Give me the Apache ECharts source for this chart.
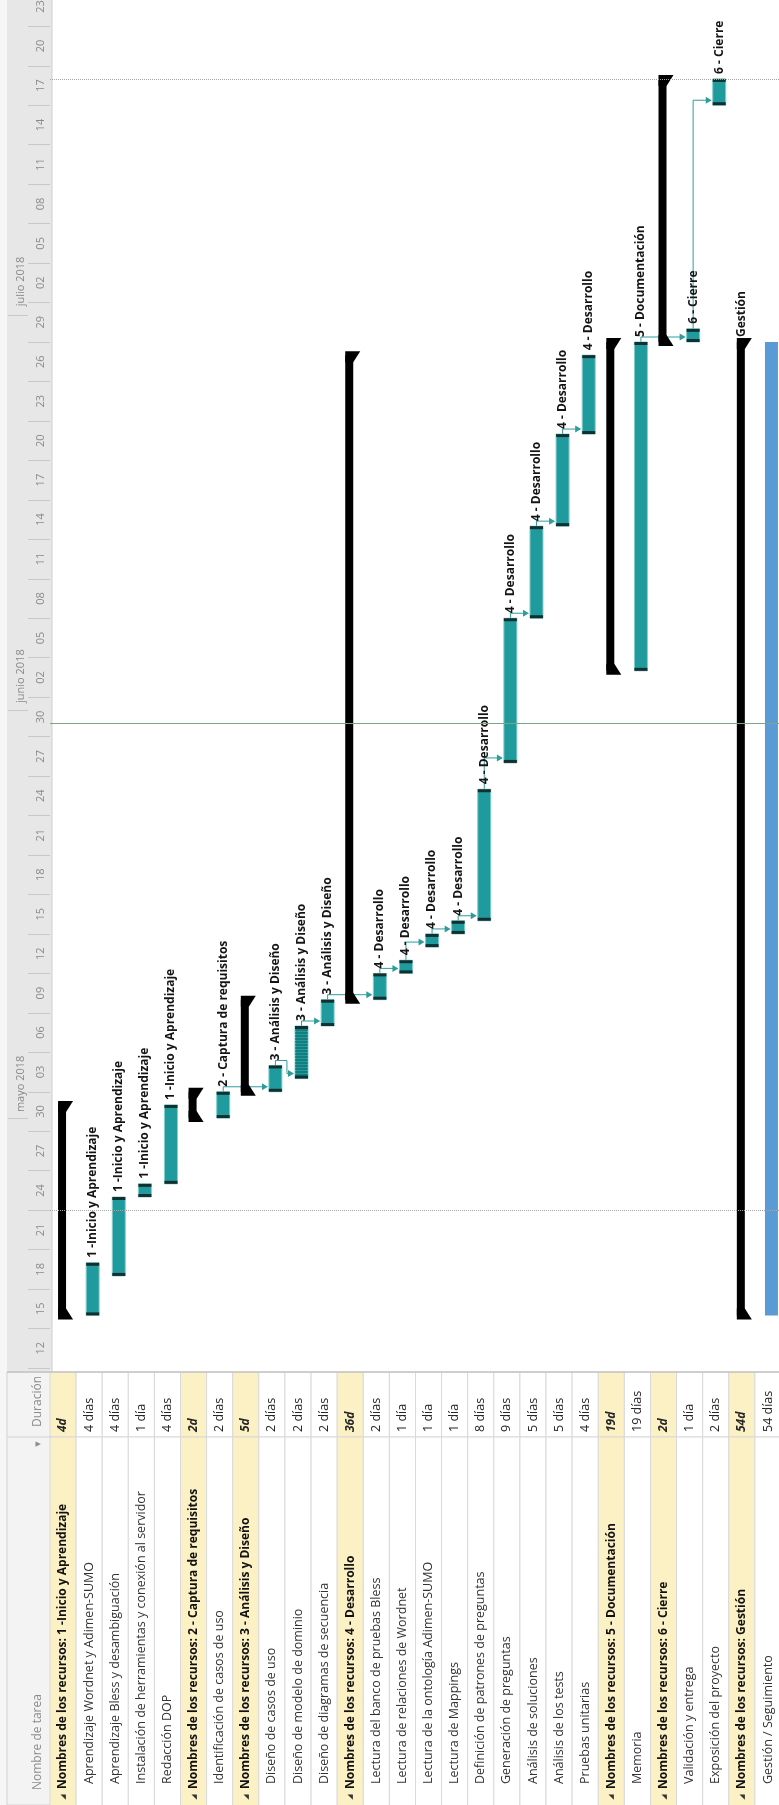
<!DOCTYPE html>
<html><head><meta charset="utf-8">
<script src="https://cdn.jsdelivr.net/npm/echarts@6/dist/echarts.min.js"></script>
<style>html,body{margin:0;padding:0;background:#fff}#c{width:779px;height:1805px}</style>
</head><body><div id="c"></div>
<script>
// ---------- data ----------
const taskNames = [
  'Nombres de los recursos: 1 -Inicio y Aprendizaje',
  'Aprendizaje Wordnet y Adimen-SUMO',
  'Aprendizaje Bless y desambiguación',
  'Instalación de herramientas y conexión al servidor',
  'Redacción DOP',
  'Nombres de los recursos: 2 - Captura de requisitos',
  'Identificación de casos de uso',
  'Nombres de los recursos: 3 - Análisis y Diseño',
  'Diseño de casos de uso',
  'Diseño de modelo de dominio',
  'Diseño de diagramas de secuencia',
  'Nombres de los recursos: 4 - Desarrollo',
  'Lectura del banco de pruebas Bless',
  'Lectura de relaciones de Wordnet',
  'Lectura de la ontología Adimen-SUMO',
  'Lectura de Mappings',
  'Definición de patrones de preguntas',
  'Generación de preguntas',
  'Análisis de soluciones',
  'Análisis de los tests',
  'Pruebas unitarias',
  'Nombres de los recursos: 5 - Documentación',
  'Memoria',
  'Nombres de los recursos: 6 - Cierre',
  'Validación y entrega',
  'Exposición del proyecto',
  'Nombres de los recursos: Gestión',
  'Gestión / Seguimiento'
];
const durations = ['4d','4 días','4 días','1 día','4 días','2d','2 días','5d','2 días','2 días','2 días','36d',
  '2 días','1 día','1 día','1 día','8 días','9 días','5 días','5 días','4 días','19d','19 días','2d','1 día','2 días','54d','54 días'];
// S = summary, T = task, H = hatched task, G = blue task
const rowKinds = ['S','T','T','T','T','S','T','S','T','H','T','S','T','T','T','T','T','T','T','T','T','S','T','S','T','T','S','G'];
const startDates = ['2018-04-16','2018-04-16','2018-04-19','2018-04-25','2018-04-26','2018-05-01','2018-05-01','2018-05-03',
  '2018-05-03','2018-05-04','2018-05-08','2018-05-10','2018-05-10','2018-05-12','2018-05-14','2018-05-15','2018-05-16',
  '2018-05-28','2018-06-08','2018-06-15','2018-06-22','2018-06-04','2018-06-04','2018-06-29','2018-06-29','2018-07-17',
  '2018-04-16','2018-04-16'];
const finishDates = ['2018-05-01','2018-04-19','2018-04-24','2018-04-25','2018-05-01','2018-05-02','2018-05-02','2018-05-09',
  '2018-05-04','2018-05-07','2018-05-09','2018-06-27','2018-05-11','2018-05-12','2018-05-14','2018-05-15','2018-05-25',
  '2018-06-07','2018-06-14','2018-06-21','2018-06-27','2018-06-28','2018-06-28','2018-07-18','2018-06-29','2018-07-18',
  '2018-06-28','2018-06-28'];
const resourceLabels = ['','1 -Inicio y Aprendizaje','1 -Inicio y Aprendizaje','1 -Inicio y Aprendizaje','1 -Inicio y Aprendizaje',
  '','2 - Captura de requisitos','','3 - Análisis y Diseño','3 - Análisis y Diseño','3 - Análisis y Diseño','',
  '4 - Desarrollo','4 - Desarrollo','4 - Desarrollo','4 - Desarrollo','4 - Desarrollo','4 - Desarrollo','4 - Desarrollo',
  '4 - Desarrollo','4 - Desarrollo','','5 - Documentación','','6 - Cierre','6 - Cierre','Gestión',''];
const linkFrom = [7, 9, 10, 11, 13, 14, 15, 16, 17, 18, 19, 20, 23, 25];
const linkTo   = [9, 10, 11, 13, 14, 15, 16, 17, 18, 19, 20, 21, 25, 26];
const tickLabels = ['12','15','18','21','24','27','30','03','06','09','12','15','18','21','24','27','30','02','05','08',
  '11','14','17','20','23','26','29','02','05','08','11','14','17','20','23'];
const monthLabels = ['mayo 2018','junio 2018','julio 2018'];
const monthStarts = ['2018-05-01','2018-06-01','2018-07-01'];
const statusDate = '2018-05-31';
const markerDates = ['2018-04-24','2018-07-19'];

// ---------- helpers ----------
const base = Date.UTC(2018, 3, 12);
const dayNum = s => { const p = s.split('-').map(Number); return (Date.UTC(p[0], p[1] - 1, p[2]) - base) / 86400000; };
const startDay = startDates.map(dayNum);
const endDay = finishDates.map(s => dayNum(s) + 1);
const tickVals = tickLabels.map((_, k) => 3 * k);
const labelVals = tickLabels.map((_, k) => 3 * k + 1.5);
const monthStartDays = monthStarts.map(dayNum);
const monthLabelDays = monthStartDays.map(d => d + 2.6);

const FONT = '"Open Sans", "DejaVu Sans", sans-serif';
const TEAL = '#1f9b9d', CAP = '#11302f', LINK = '#2f9c9c';
const BAR_OFF = 3.5, BAR_W = 13;
const GANTT_BOTTOM = 1372, DUR_END = 1437, PAGE_H = 1805;

function renderTable(params, api) {
  const i = params.dataIndex;
  const c = api.coord([i, 0])[0];
  const w = api.size([1, 0])[0];
  const summary = rowKinds[i] === 'S';
  const fillC = summary ? '#fcf1c4' : '#ffffff';
  const ch = [
    {type: 'rect', shape: {x: c - w / 2, y: GANTT_BOTTOM, width: w, height: DUR_END - GANTT_BOTTOM},
     style: {fill: fillC, stroke: '#d9d9d9', lineWidth: 1}},
    {type: 'rect', shape: {x: c - w / 2, y: DUR_END, width: w, height: PAGE_H - DUR_END + 2},
     style: {fill: fillC, stroke: '#d9d9d9', lineWidth: 1}},
    {type: 'text', x: c, y: DUR_END - 5, rotation: Math.PI / 2,
     style: {text: durations[i], fill: '#262626', align: 'left', verticalAlign: 'middle',
       font: (summary ? 'italic bold 12px ' : '12.5px ') + FONT}},
    {type: 'text', x: c, y: summary ? 1789 : 1784, rotation: Math.PI / 2,
     style: {text: taskNames[i], fill: summary ? '#111' : '#333', align: 'left', verticalAlign: 'middle',
       font: (summary ? 'bold 12px ' : '12.5px ') + FONT}}
  ];
  if (summary) {
    ch.push({type: 'text', x: c, y: 1797, rotation: Math.PI / 2,
      style: {text: '◢', fill: '#333', align: 'center', verticalAlign: 'middle', font: '7px ' + FONT}});
  }
  return {type: 'group', children: ch};
}

function renderBar(params, api) {
  const i = params.dataIndex;
  const k = rowKinds[i];
  const p0 = api.coord([api.value(0), api.value(1)]);
  const p1 = api.coord([api.value(0), api.value(2)]);
  const c = p0[0], yS = p0[1], yE = p1[1];
  const ch = [];
  let labelX = c + BAR_OFF;
  if (k === 'S') {
    const xl = c - 5, xr = c + 3;
    ch.push({type: 'rect', shape: {x: xl, y: yE, width: xr - xl, height: yS - yE}, style: {fill: '#000'}});
    ch.push({type: 'polygon', shape: {points: [[xl, yE - 4], [c + 10, yE - 4], [xr, yE + 7], [xl, yE + 7]]}, style: {fill: '#000'}});
    ch.push({type: 'polygon', shape: {points: [[xl, yS + 4], [c + 10, yS + 4], [xr, yS - 7], [xl, yS - 7]]}, style: {fill: '#000'}});
    labelX = c;
  } else {
    const xc = c + BAR_OFF, xl = xc - BAR_W / 2;
    if (k === 'G') {
      ch.push({type: 'rect', shape: {x: xl, y: yE, width: BAR_W, height: yS - yE}, style: {fill: '#5b9bd5'}});
    } else {
      ch.push({type: 'rect', shape: {x: xl, y: yE, width: BAR_W, height: yS - yE},
        style: {fill: TEAL, stroke: '#86cdcd', lineWidth: 1}});
      if (k === 'H') {
        for (let y = yE + 4; y < yS - 3; y += 3) {
          ch.push({type: 'line', shape: {x1: xl, y1: y, x2: xl + BAR_W, y2: y}, style: {stroke: '#0e5e5f', lineWidth: 1}});
        }
      }
      ch.push({type: 'rect', shape: {x: xl, y: yE, width: BAR_W, height: 3}, style: {fill: CAP}});
      ch.push({type: 'rect', shape: {x: xl, y: yS - 3, width: BAR_W, height: 3}, style: {fill: CAP}});
    }
  }
  if (resourceLabels[i]) {
    ch.push({type: 'text', x: labelX, y: yE - 5, rotation: Math.PI / 2,
      style: {text: resourceLabels[i], fill: '#141414', align: 'left', verticalAlign: 'middle', font: 'bold 12px ' + FONT}});
  }
  return {type: 'group', children: ch};
}

function renderLink(params, api) {
  const f = linkFrom[params.dataIndex] - 1, t = linkTo[params.dataIndex] - 1;
  const pf = api.coord([f, endDay[f]]);
  const pt = api.coord([t, startDay[t]]);
  const xf = pf[0] + BAR_OFF, yf = pf[1];
  const xt = pt[0] + BAR_OFF - BAR_W / 2 - 1, yt = pt[1] - 5;
  let pts;
  if (yt <= yf - 4) {
    pts = [[xf, yf], [xf, yt], [xt - 4, yt]];
  } else {
    const xm = xf + BAR_W / 2 + 5;
    pts = [[xf, yf], [xf, yf - 5], [xm, yf - 5], [xm, yt], [xt - 4, yt]];
  }
  return {type: 'group', children: [
    {type: 'polyline', shape: {points: pts}, style: {stroke: LINK, lineWidth: 1, fill: null}},
    {type: 'polygon', shape: {points: [[xt, yt], [xt - 6, yt - 3.5], [xt - 6, yt + 3.5]]}, style: {fill: LINK}}
  ]};
}

const chart = echarts.init(document.getElementById('c'));
const option = {
  animation: false,
  grid: {left: 50, top: 0, width: 731, height: 1368, containLabel: false, outerBoundsMode: 'none'},
  xAxis: {type: 'category', data: taskNames.map((_, i) => i), boundaryGap: true, show: false},
  yAxis: [
    {type: 'value', min: 0, max: 104, interval: 3, position: 'left', z: 10,
     axisLine: {show: false}, splitLine: {show: false},
     axisTick: {show: true, customValues: tickVals, length: 22, lineStyle: {color: '#c8c8c8'}},
     axisLabel: {customValues: labelVals, rotate: 90, margin: 4, color: '#8a8a8a', fontSize: 11, fontFamily: FONT,
       formatter: v => tickLabels[Math.round((v - 1.5) / 3)]}},
    {type: 'value', min: 0, max: 104, position: 'left', offset: 22, z: 10,
     axisLine: {show: false}, splitLine: {show: false},
     axisTick: {show: true, customValues: monthStartDays, length: 20, lineStyle: {color: '#c8c8c8'}},
     axisLabel: {customValues: monthLabelDays, rotate: 90, margin: 2, color: '#8a8a8a', fontSize: 11, fontFamily: FONT,
       formatter: v => monthLabels[monthLabelDays.findIndex(d => Math.abs(d - v) < 0.5)]}}
  ],
  graphic: [
    {type: 'rect', z: -10, shape: {x: 0, y: 0, width: 7, height: PAGE_H}, style: {fill: '#f6f6f6'}},
    {type: 'rect', z: -10, shape: {x: 7, y: 0, width: 45, height: GANTT_BOTTOM}, style: {fill: '#e7e7e7'}},
    {type: 'line', z: -9, shape: {x1: 52, y1: 0, x2: 52, y2: GANTT_BOTTOM}, style: {stroke: '#cfcfcf', lineWidth: 1}},
    {type: 'rect', z: -10, shape: {x: 7, y: GANTT_BOTTOM, width: 45, height: PAGE_H - GANTT_BOTTOM}, style: {fill: '#f3f3f3', stroke: '#d3d3d3'}},
    {type: 'line', z: 5, shape: {x1: 7, y1: GANTT_BOTTOM, x2: 779, y2: GANTT_BOTTOM}, style: {stroke: '#c4c4c4', lineWidth: 1.5}},
    {type: 'line', z: 5, shape: {x1: 7, y1: DUR_END, x2: 52, y2: DUR_END}, style: {stroke: '#d3d3d3', lineWidth: 1}},
    {type: 'text', z: 5, x: 38, y: 1376, rotation: Math.PI / 2,
     style: {text: 'Duración', fill: '#8c8c8c', align: 'right', verticalAlign: 'middle', font: '12px ' + FONT}},
    {type: 'text', z: 5, x: 38, y: 1444, rotation: Math.PI / 2,
     style: {text: '▼', fill: '#8c8c8c', align: 'center', verticalAlign: 'middle', font: '7px ' + FONT}},
    {type: 'text', z: 5, x: 38, y: 1790, rotation: Math.PI / 2,
     style: {text: 'Nombre de tarea', fill: '#8c8c8c', align: 'left', verticalAlign: 'middle', font: '12px ' + FONT}}
  ],
  series: [
    {type: 'custom', name: 'table', clip: false, xAxisIndex: 0, yAxisIndex: 0, silent: true,
     data: taskNames.map((_, i) => [i, 0]), renderItem: renderTable, z: 1},
    {type: 'custom', name: 'links', clip: false, silent: true,
     data: linkFrom.map((_, i) => [i]), renderItem: renderLink, z: 3,
     markLine: {silent: true, symbol: 'none', label: {show: false},
       data: [
         {yAxis: dayNum(statusDate), lineStyle: {color: '#7aa587', width: 1, type: 'solid'}},
         {yAxis: dayNum(markerDates[0]), lineStyle: {color: '#a6a6a6', width: 1, type: 'dotted'}},
         {yAxis: dayNum(markerDates[1]), lineStyle: {color: '#a6a6a6', width: 1, type: 'dotted'}}
       ]}},
    {type: 'custom', name: 'bars', clip: false, silent: true,
     data: taskNames.map((_, i) => [i, startDay[i], endDay[i]]), renderItem: renderBar, z: 4}
  ]
};
chart.setOption(option);
</script>
</body></html>
